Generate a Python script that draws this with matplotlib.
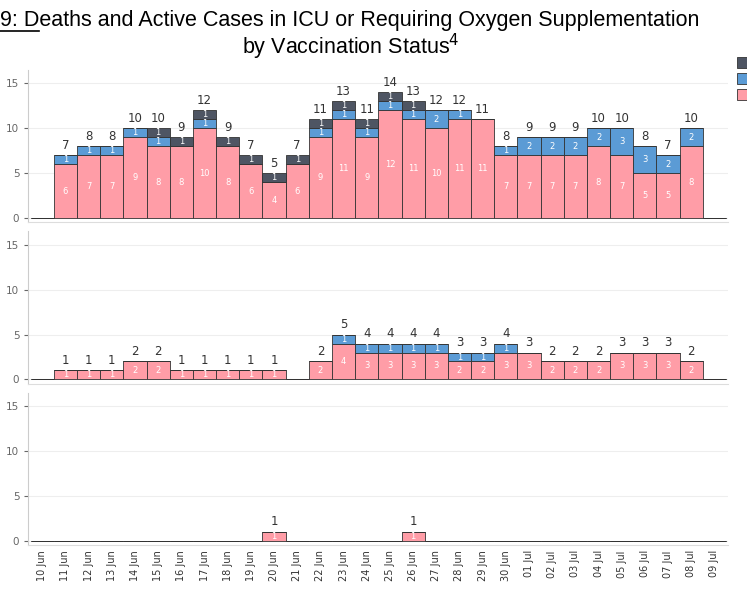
import numpy as np
import matplotlib.pyplot as plt

dates = ['10 Jun', '11 Jun', '12 Jun', '13 Jun', '14 Jun', '15 Jun', '16 Jun', '17 Jun', '18 Jun',
         '19 Jun', '20 Jun', '21 Jun', '22 Jun', '23 Jun', '24 Jun', '25 Jun', '26 Jun', '27 Jun',
         '28 Jun', '29 Jun', '30 Jun', '01 Jul', '02 Jul', '03 Jul', '04 Jul', '05 Jul', '06 Jul',
         '07 Jul', '08 Jul', '09 Jul']

# top panel (11 Jun .. 08 Jul), pad with 0 for 10 Jun and 09 Jul
top_pink = [0, 6, 7, 7, 9, 8, 8, 10, 8, 6, 4, 6, 9, 11, 9, 12, 11, 10, 11, 11, 7, 7, 7, 7, 8, 7, 5, 5, 8, 0]
top_blue = [0, 1, 1, 1, 1, 1, 0, 1, 0, 0, 0, 0, 1, 1, 1, 1, 1, 2, 1, 0, 1, 2, 2, 2, 2, 3, 3, 2, 2, 0]
top_dark = [0, 0, 0, 0, 0, 1, 1, 1, 1, 1, 1, 1, 1, 1, 1, 1, 1, 0, 0, 0, 0, 0, 0, 0, 0, 0, 0, 0, 0, 0]

mid_pink = [0, 1, 1, 1, 2, 2, 1, 1, 1, 1, 1, 0, 2, 4, 3, 3, 3, 3, 2, 2, 3, 3, 2, 2, 2, 3, 3, 3, 2, 0]
mid_blue = [0, 0, 0, 0, 0, 0, 0, 0, 0, 0, 0, 0, 0, 1, 1, 1, 1, 1, 1, 1, 1, 0, 0, 0, 0, 0, 0, 0, 0, 0]
mid_dark = [0] * 30

bot_pink = [0] * 10 + [1] + [0] * 5 + [1] + [0] * 13
bot_blue = [0] * 30
bot_dark = [0] * 30

panels = [(top_pink, top_blue, top_dark), (mid_pink, mid_blue, mid_dark), (bot_pink, bot_blue, bot_dark)]
colors = ['#ff9da7', '#5b9bd5', '#4e5563']

fig = plt.figure(figsize=(7.47, 5.98), dpi=100)
fig.text(0.0, 0.965, '9: Deaths and Active Cases in ICU or Requiring Oxygen Supplementation',
         fontsize=15.5, family='Liberation Sans', ha='left', va='center')
fig.text(0.47, 0.922, 'by Vaccination Status$^4$', fontsize=15.5, family='Liberation Sans',
         ha='center', va='center')
fig.add_artist(plt.Line2D([0.0, 0.052], [0.948, 0.948], color='black', lw=1.2))

bottoms = [0.628, 0.358, 0.088]
x = np.arange(30)
for i, (pink, blue, dark) in enumerate(panels):
    ax = fig.add_axes([0.038, bottoms[i], 0.937, 0.255])
    base = np.zeros(30)
    for vals, c in zip((pink, blue, dark), colors):
        v = np.array(vals)
        ax.bar(x, v, 1.0, bottom=base, color=c, edgecolor='#333333', linewidth=0.6)
        for xi, (b, h) in enumerate(zip(base, v)):
            if h > 0:
                ax.text(xi, b + h / 2 if h > 1 else b + h / 2, str(h), ha='center', va='center',
                        fontsize=6, color='white')
        base = base + v
    for xi, t in enumerate(base):
        if t > 0:
            ax.text(xi, t + 0.4, str(int(t)), ha='center', va='bottom', fontsize=8.5, color='#333333')
    ax.set_xlim(-0.6, 29.6)
    ax.set_ylim(-0.5, 16.5)
    ax.set_yticks([0, 5, 10, 15])
    ax.tick_params(axis='y', labelsize=7.5, colors='#666666', length=3)
    ax.grid(axis='y', color='#eeeeee', lw=0.8)
    ax.set_axisbelow(True)
    for s in ['top', 'right']:
        ax.spines[s].set_visible(False)
    ax.spines['left'].set_color('#cccccc')
    ax.spines['bottom'].set_color('#dddddd')
    if i < 2:
        ax.set_xticks([])
    else:
        ax.set_xticks(x)
        ax.set_xticklabels(dates, rotation=90, fontsize=7, color='#333333')
        ax.tick_params(axis='x', length=0)

# legend squares at right edge (cut off)
for j, c in enumerate(colors[::-1]):
    fig.add_artist(plt.Rectangle((0.987, 0.887 - j * 0.027), 0.016, 0.018,
                                 facecolor=c, edgecolor='#333333', lw=0.6))

fig.savefig('out.png', dpi=100)
